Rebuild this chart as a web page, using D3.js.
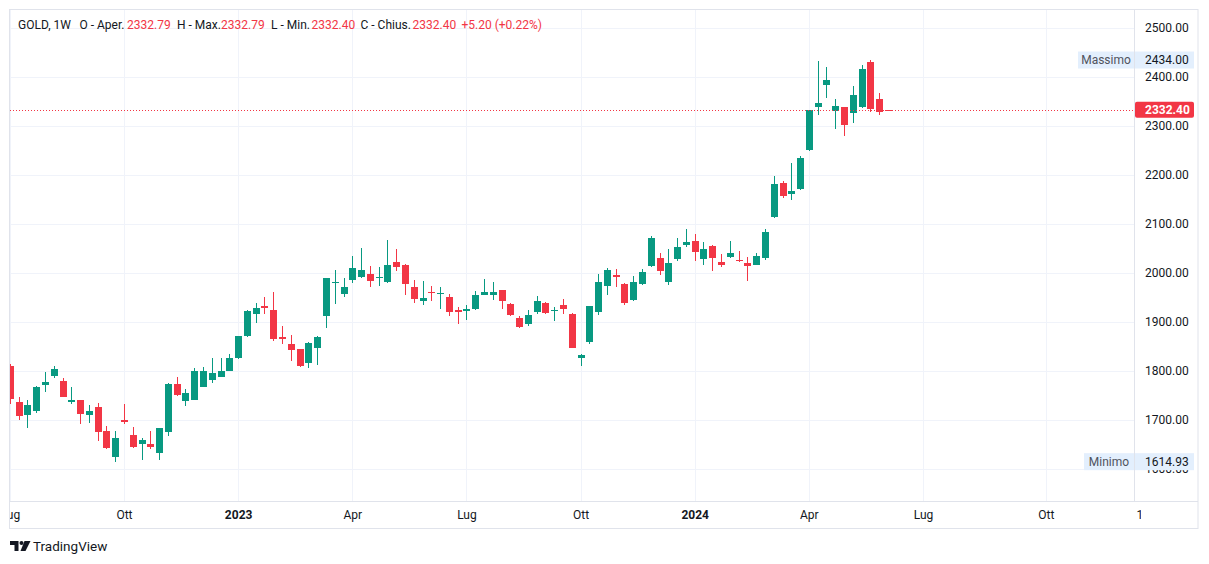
<!DOCTYPE html>
<html><head><meta charset="utf-8">
<script src="https://cdn.jsdelivr.net/npm/d3@7"></script>
<style>
body{margin:0;background:#fff;}
svg{display:block;font-family:Roboto,"Noto Sans",sans-serif;}
</style>
</head><body>
<svg id="c" width="1209" height="564"></svg>
<script>
// ---- DATA ----
const dates = ["2022-07-04","2022-07-11","2022-07-18","2022-07-25","2022-08-01","2022-08-08","2022-08-15","2022-08-22","2022-08-29","2022-09-05",
"2022-09-12","2022-09-19","2022-09-26","2022-10-03","2022-10-10","2022-10-17","2022-10-24","2022-10-31","2022-11-07","2022-11-14",
"2022-11-21","2022-11-28","2022-12-05","2022-12-12","2022-12-19","2022-12-26","2023-01-02","2023-01-09","2023-01-16","2023-01-23",
"2023-01-30","2023-02-06","2023-02-13","2023-02-20","2023-02-27","2023-03-06","2023-03-13","2023-03-20","2023-03-27","2023-04-03",
"2023-04-10","2023-04-17","2023-04-24","2023-05-01","2023-05-08","2023-05-15","2023-05-22","2023-05-29","2023-06-05","2023-06-12",
"2023-06-19","2023-06-26","2023-07-03","2023-07-10","2023-07-17","2023-07-24","2023-07-31","2023-08-07","2023-08-14","2023-08-21",
"2023-08-28","2023-09-04","2023-09-11","2023-09-18","2023-09-25","2023-10-02","2023-10-09","2023-10-16","2023-10-23","2023-10-30",
"2023-11-06","2023-11-13","2023-11-20","2023-11-27","2023-12-04","2023-12-11","2023-12-18","2023-12-25","2024-01-01","2024-01-08",
"2024-01-15","2024-01-22","2024-01-29","2024-02-05","2024-02-12","2024-02-19","2024-02-26","2024-03-04","2024-03-11","2024-03-18",
"2024-03-25","2024-04-01","2024-04-08","2024-04-15","2024-04-22","2024-04-29","2024-05-06","2024-05-13","2024-05-20","2024-05-27",
"2024-06-03"];

const opens = [1809.5,1736.0,1710.2,1718.3,1771.4,1789.7,1780.2,1736.0,1740.1,1710.2,
1725.8,1676.9,1624.5,1699.3,1668.7,1651.0,1650.3,1632.7,1675.5,1773.4,
1738.7,1740.8,1767.3,1781.6,1787.5,1799.6,1825.4,1870.2,1915.1,1931.4,
1923.3,1868.2,1853.9,1843.7,1815.2,1846.5,1911.0,1978.3,1955.9,1984.4,
1990.6,1996.7,1989.2,1980.4,2023.0,2016.8,1971.8,1941.8,1961.6,1956.8,
1951.3,1924.8,1921.4,1925.4,1954.1,1954.1,1965.7,1937.0,1908.4,1894.8,
1919.3,1939.1,1921.3,1935.0,1916.6,1827.3,1860.0,1919.3,1972.5,1996.3,
1978.0,1945.2,1976.6,2013.4,2031.1,1980.7,2027.7,2057.7,2065.9,2027.7,
2055.7,2022.9,2031.8,2027.0,2020.9,2015.4,2029.8,2113.6,2182.3,2160.5,
2170.0,2249.6,2338.9,2383.7,2330.7,2338.2,2326.6,2338.9,2430.0,2354.5,
2332.79];
const highs = [1814.0,1746.2,1740.1,1768.7,1797.2,1809.5,1785.0,1766.6,1741.5,1729.9,
1734.0,1688.4,1676.9,1731.9,1685.0,1662.6,1676.9,1683.0,1775.5,1787.0,
1762.5,1805.4,1808.1,1825.4,1825.4,1833.5,1870.5,1923.3,1937.5,1949.8,
1960.0,1890.6,1872.3,1845.0,1858.0,1870.3,1989.0,2004.8,1988.5,2033.4,
2049.7,2013.0,2011.0,2067.9,2049.6,2018.8,1986.1,1984.1,1973.9,1971.8,
1957.5,1930.9,1935.0,1963.6,1988.2,1982.0,1966.0,1939.1,1912.5,1924.8,
1953.4,1940.0,1930.9,1947.3,1918.0,1834.8,1933.0,1998.4,2010.7,2008.6,
1979.0,1994.3,2008.6,2076.1,2041.3,2049.5,2072.0,2090.4,2080.2,2063.8,
2057.0,2039.3,2065.9,2045.4,2033.2,2041.3,2088.4,2196.6,2186.4,2223.0,
2237.4,2333.0,2431.0,2419.7,2354.5,2339.0,2381.0,2423.8,2434.0,2366.7,
2332.79];
const lows = [1732.0,1700.0,1683.7,1714.3,1757.1,1785.7,1746.0,1732.6,1691.8,1693.2,
1657.1,1640.8,1614.93,1691.8,1642.9,1618.4,1640.8,1619.1,1667.3,1748.3,
1728.5,1740.8,1767.0,1775.5,1787.0,1799.0,1824.0,1868.2,1896.8,1917.1,
1862.0,1853.9,1819.3,1808.0,1805.0,1811.1,1886.6,1935.5,1949.8,1978.3,
1990.0,1970.2,1974.2,1980.0,2003.0,1954.1,1937.7,1933.6,1941.8,1925.4,
1911.1,1894.8,1902.9,1925.0,1954.0,1943.9,1925.4,1911.1,1886.6,1890.7,
1915.2,1916.0,1902.3,1915.2,1846.0,1810.9,1853.9,1913.2,1954.1,1970.4,
1933.6,1942.5,1975.9,2012.7,1996.3,1974.5,2023.6,2053.6,2025.0,2015.4,
2003.2,2011.3,2029.8,2021.6,1984.1,2015.4,2025.7,2110.9,2152.4,2147.6,
2168.0,2248.0,2322.5,2357.2,2294.0,2279.7,2306.2,2336.8,2328.7,2322.5,
2332.40];
const closes = [1742.8,1708.1,1729.9,1766.6,1776.8,1803.3,1746.9,1740.1,1712.2,1717.7,
1675.5,1642.9,1662.6,1695.9,1644.2,1658.5,1644.2,1683.0,1773.4,1751.0,
1754.4,1799.3,1799.3,1794.8,1798.9,1825.4,1870.2,1921.2,1927.3,1927.3,
1864.1,1864.8,1841.7,1809.1,1856.0,1868.2,1988.5,1980.4,1970.2,2008.9,
2004.8,1983.1,1990.6,2017.0,2011.5,1976.6,1945.9,1949.3,1960.2,1958.2,
1919.3,1919.3,1926.8,1955.4,1961.6,1960.2,1941.8,1913.2,1888.6,1914.5,
1941.8,1917.3,1924.8,1925.4,1847.7,1832.7,1932.9,1982.0,2006.6,1990.9,
1937.7,1982.0,2002.5,2072.0,2003.2,2020.9,2053.6,2063.8,2043.4,2049.5,
2029.8,2016.8,2041.3,2023.6,2013.4,2035.2,2084.3,2180.2,2156.4,2166.0,
2233.3,2332.1,2346.3,2393.2,2340.2,2302.1,2362.6,2415.7,2333.4,2327.2,
2332.40];

const priceTicks = [1600,1700,1800,1900,2000,2100,2200,2300,2400,2500];
const timeTickDates = ["2022-07-04","2022-10-03","2023-01-02","2023-04-03","2023-07-03","2023-10-02","2024-01-01","2024-04-01","2024-07-01","2024-10-07"];
const timeTickLabels = ["Lug","Ott","2023","Apr","Lug","Ott","2024","Apr","Lug","Ott"];
const yearLabels = ["2023","2024"];

const lastPrice = 2332.40;
const highestPrice = 2434.00;
const lowestPrice = 1614.93;

const legendParts = [
  {t:"GOLD, 1W", c:"label", x:18},
  {t:"O - Aper.", c:"label", x:79.5},
  {t:"2332.79", c:"value", x:127},
  {t:"H - Max.", c:"label", x:177},
  {t:"2332.79", c:"value", x:221},
  {t:"L - Min.", c:"label", x:271},
  {t:"2332.40", c:"value", x:311.5},
  {t:"C - Chius.", c:"label", x:360.5},
  {t:"2332.40", c:"value", x:412.5},
  {t:"+5.20 (+0.22%)", c:"value", x:461.5}
];

// ---- CHART ----
const UP = "#089981", DOWN = "#f23645", GRID = "#f0f3fa", BORDER = "#e0e3eb", TEXT = "#131722";
const svg = d3.select("#c");
const parse = s => { const [Y,M,D] = s.split("-").map(Number); return new Date(Date.UTC(Y, M-1, D)); };
const dd = dates.map(parse);

const plotL = 10, plotR = 1134, plotT = 10, plotB = 501, axisR = 1198, timeB = 528.5;

const x = d3.scaleUtc().domain([dd[0], dd[dd.length-1]]).range([9.86, 9.86 + 8.78*(dd.length-1)]);
const y = d3.scaleLinear().domain([1600, 2500]).range([469.0, 27.66]);

svg.append("rect").attr("width",1209).attr("height",564).attr("fill","#fff");

const defs = svg.append("defs");
defs.append("clipPath").attr("id","plotClip").append("rect")
  .attr("x",plotL).attr("y",plotT).attr("width",plotR-plotL).attr("height",plotB-plotT);
defs.append("clipPath").attr("id","timeClip").append("rect")
  .attr("x",plotL).attr("y",plotB).attr("width",1141-plotL).attr("height",timeB-plotB);

// grid
const grid = svg.append("g").attr("clip-path","url(#plotClip)");
grid.selectAll("line.h").data(priceTicks).join("line")
  .attr("x1",plotL).attr("x2",plotR)
  .attr("y1",d=>Math.round(y(d))+0.5).attr("y2",d=>Math.round(y(d))+0.5)
  .attr("stroke",GRID).attr("stroke-width",1);
const tickD = timeTickDates.map(parse);
grid.selectAll("line.v").data(tickD).join("line")
  .attr("x1",d=>Math.round(x(d))+0.5).attr("x2",d=>Math.round(x(d))+0.5)
  .attr("y1",plotT).attr("y2",plotB)
  .attr("stroke",GRID).attr("stroke-width",1);

// candles
const candles = svg.append("g").attr("clip-path","url(#plotClip)");
const idx = d3.range(dd.length);
const col = i => closes[i] >= opens[i] ? UP : DOWN;
candles.selectAll("rect.w").data(idx).join("rect")
  .attr("x", i => Math.round(x(dd[i])))
  .attr("width", 1)
  .attr("y", i => Math.round(y(highs[i])))
  .attr("height", i => Math.max(1, Math.round(y(lows[i])) - Math.round(y(highs[i]))))
  .attr("fill", col);
candles.selectAll("rect.b").data(idx).join("rect")
  .attr("x", i => Math.round(x(dd[i])) - 3)
  .attr("width", 7)
  .attr("y", i => Math.round(y(Math.max(opens[i], closes[i]))))
  .attr("height", i => Math.max(1, Math.round(y(Math.min(opens[i], closes[i]))) - Math.round(y(Math.max(opens[i], closes[i])))))
  .attr("fill", col);

// last price dotted line
const yl = Math.round(y(lastPrice)) + 0.5;
svg.append("line").attr("x1",plotL).attr("x2",plotR).attr("y1",yl).attr("y2",yl)
  .attr("stroke",DOWN).attr("stroke-width",1).attr("stroke-dasharray","1,2");

// frame & axes lines
svg.append("rect").attr("x",9.5).attr("y",9.5).attr("width",axisR-9.5).attr("height",timeB-9.5)
  .attr("fill","none").attr("stroke",BORDER);
svg.append("line").attr("x1",9.5).attr("x2",axisR).attr("y1",plotB+0.5).attr("y2",plotB+0.5).attr("stroke",BORDER);
svg.append("line").attr("x1",plotR+0.5).attr("x2",plotR+0.5).attr("y1",9.5).attr("y2",plotB+0.5).attr("stroke",BORDER);

// price axis labels
svg.append("g").selectAll("text").data(priceTicks).join("text")
  .attr("x",1145).attr("y",d=>y(d)).attr("dy","0.35em")
  .attr("font-size",12).attr("fill",TEXT).text(d=>d3.format(".2f")(d));

// time axis labels
const tg = svg.append("g").attr("clip-path","url(#timeClip)");
tg.selectAll("text").data(timeTickLabels).join("text")
  .attr("x",(d,i)=>x(tickD[i])+0.5).attr("y",515).attr("dy","0.35em")
  .attr("text-anchor","middle").attr("font-size",12).attr("fill",TEXT)
  .attr("font-weight",d=>yearLabels.includes(d)?"bold":"normal").text(d=>d);
tg.append("text").attr("x",1136.5).attr("y",515).attr("dy","0.35em")
  .attr("font-size",12).attr("fill",TEXT).text("1");

// high / low labels
function sideLabel(val, name, nameW) {
  const yc = y(val);
  const g = svg.append("g");
  g.append("rect").attr("x",plotR-nameW).attr("y",yc-8.5).attr("width",nameW).attr("height",17).attr("fill","#e3effd");
  g.append("rect").attr("x",plotR+1).attr("y",yc-8.5).attr("width",59).attr("height",17).attr("fill","#e3effd");
  g.append("text").attr("x",plotR-nameW/2).attr("y",yc).attr("dy","0.35em").attr("text-anchor","middle")
    .attr("font-size",12).attr("fill","#50535e").text(name);
  g.append("text").attr("x",1145).attr("y",yc).attr("dy","0.35em")
    .attr("font-size",12).attr("fill",TEXT).text(d3.format(".2f")(val));
}
sideLabel(highestPrice, "Massimo", 56);
sideLabel(lowestPrice, "Minimo", 50);

// last price label
svg.append("rect").attr("x",plotR+1).attr("y",y(lastPrice)-8).attr("width",59).attr("height",16)
  .attr("rx",2).attr("fill",DOWN);
svg.append("text").attr("x",1145).attr("y",y(lastPrice)).attr("dy","0.35em")
  .attr("font-size",12).attr("font-weight","bold").attr("fill","#fff").text(d3.format(".2f")(lastPrice));

// legend
svg.append("g").selectAll("text").data(legendParts).join("text")
  .attr("x",d=>d.x).attr("y",25).attr("dy","0.35em").attr("font-size",12)
  .attr("fill",d=>d.c==="value"?DOWN:TEXT).text(d=>d.t);

// logo
const lg = svg.append("g").attr("fill",TEXT);
lg.append("path").attr("d","M10,541 H18.5 V551 H14.5 V545 H10 Z");
lg.append("circle").attr("cx",21.5).attr("cy",543).attr("r",2);
lg.append("path").attr("d","M24.5,541 H30.5 L25.5,551 H20.5 Z");
svg.append("text").attr("x",33).attr("y",546.5).attr("dy","0.35em").attr("font-size",13.5)
  .attr("fill",TEXT).text("TradingView");
</script>
</body></html>
